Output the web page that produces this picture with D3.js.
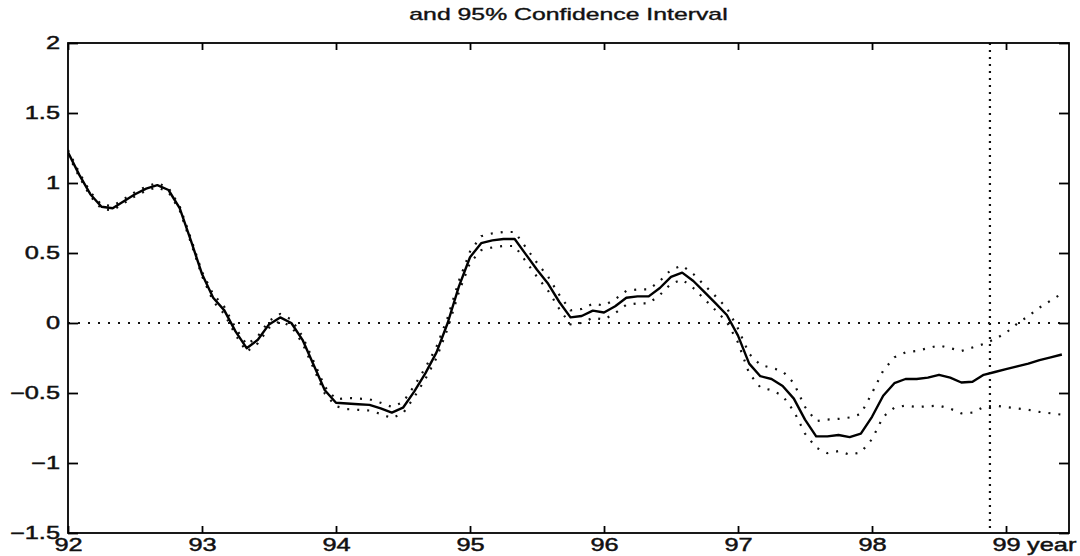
<!DOCTYPE html>
<html>
<head>
<meta charset="utf-8">
<script src="https://cdn.jsdelivr.net/npm/d3@7"></script>
<style>
  html, body { margin: 0; padding: 0; background: #fff; }
  svg { display: block; }
  text { font-family: "Liberation Sans", Arial, Helvetica, sans-serif; fill: #111; }
</style>
</head>
<body>
<svg id="chart" width="1080" height="556"></svg>
<script>
const title = "and 95% Confidence Interval";
const startYear = 92; // monthly samples, first one at Jan 92

// point estimate
const estimate = [
  1.22, 1.06, 0.92, 0.83, 0.82, 0.87, 0.92, 0.96, 0.985, 0.95, 0.82, 0.59,
  0.35, 0.18, 0.09, -0.06, -0.18, -0.12, -0.01, 0.04, 0.0, -0.12, -0.30, -0.48,
  -0.57, -0.575, -0.58, -0.585, -0.61, -0.64, -0.605, -0.49, -0.36, -0.21, 0.0, 0.26,
  0.47, 0.57, 0.59, 0.60, 0.60, 0.49, 0.38, 0.28, 0.15, 0.04, 0.05, 0.088,
  0.075, 0.12, 0.18, 0.19, 0.19, 0.25, 0.33, 0.36, 0.30, 0.22, 0.14, 0.057,
  -0.09, -0.29, -0.38, -0.40, -0.45, -0.54, -0.69, -0.81, -0.81, -0.80, -0.815, -0.79,
  -0.67, -0.52, -0.43, -0.40, -0.40, -0.39, -0.37, -0.39, -0.425, -0.42, -0.37, -0.35,
  -0.33, -0.31, -0.29, -0.265, -0.245, -0.225
];

// upper 95% bound
const upper = [
  1.235, 1.075, 0.935, 0.845, 0.835, 0.885, 0.935, 0.975, 1.0, 0.965, 0.835, 0.605,
  0.365, 0.205, 0.115, -0.035, -0.155, -0.095, 0.015, 0.065, 0.025, -0.095, -0.275, -0.455,
  -0.545, -0.535, -0.54, -0.545, -0.57, -0.60, -0.565, -0.45, -0.32, -0.17, 0.04, 0.30,
  0.51, 0.62, 0.64, 0.65, 0.65, 0.54, 0.43, 0.33, 0.20, 0.09, 0.10, 0.138,
  0.125, 0.17, 0.23, 0.24, 0.24, 0.30, 0.38, 0.41, 0.35, 0.27, 0.19, 0.107,
  -0.04, -0.22, -0.30, -0.32, -0.345, -0.43, -0.60, -0.70, -0.69, -0.685, -0.675, -0.65,
  -0.50, -0.34, -0.245, -0.21, -0.20, -0.18, -0.16, -0.18, -0.20, -0.175, -0.15, -0.115,
  -0.07, -0.005, 0.05, 0.11, 0.16, 0.21
];

// lower 95% bound
const lower = [
  1.205, 1.045, 0.905, 0.815, 0.805, 0.855, 0.905, 0.945, 0.97, 0.935, 0.805, 0.575,
  0.335, 0.155, 0.065, -0.085, -0.205, -0.145, -0.035, 0.015, -0.025, -0.145, -0.325, -0.505,
  -0.595, -0.615, -0.62, -0.625, -0.65, -0.68, -0.645, -0.53, -0.40, -0.25, -0.04, 0.22,
  0.43, 0.52, 0.54, 0.55, 0.55, 0.44, 0.33, 0.23, 0.10, -0.01, 0.0, 0.038,
  0.025, 0.07, 0.13, 0.14, 0.14, 0.20, 0.28, 0.31, 0.25, 0.17, 0.09, 0.007,
  -0.14, -0.36, -0.46, -0.48, -0.52, -0.63, -0.79, -0.89, -0.93, -0.915, -0.94, -0.925,
  -0.83, -0.67, -0.605, -0.59, -0.60, -0.595, -0.59, -0.612, -0.645, -0.64, -0.60, -0.59,
  -0.60, -0.61, -0.62, -0.635, -0.645, -0.655
];

const xTicks = [92, 93, 94, 95, 96, 97, 98, 99];
const yTicks = [-1.5, -1, -0.5, 0, 0.5, 1, 1.5, 2];
const forecastStart = 98.88;

// the original figure is stretched sideways, so text is too
const stretch = 1.45;

const margin = { top: 43, right: 11, bottom: 23, left: 68 };
const width = 1080, height = 556;
const innerW = width - margin.left - margin.right;
const innerH = height - margin.top - margin.bottom;

const svg = d3.select("#chart");
const g = svg.append("g").attr("transform", `translate(${margin.left},${margin.top})`);

const x = d3.scaleLinear().domain([92, 99.47]).range([0, innerW]);
const y = d3.scaleLinear().domain([-1.5, 2]).range([innerH, 0]);

const t = i => startYear + i / 12;

g.append("clipPath").attr("id", "clip")
  .append("rect").attr("width", innerW).attr("height", innerH);

const plot = g.append("g").attr("clip-path", "url(#clip)");

// zero line
plot.append("line")
  .attr("x1", x(92)).attr("x2", x(99.47))
  .attr("y1", y(0)).attr("y2", y(0))
  .attr("stroke", "#111").attr("stroke-width", 2.2)
  .attr("stroke-dasharray", "2 8");

// start of forecast
plot.append("line")
  .attr("x1", x(forecastStart)).attr("x2", x(forecastStart))
  .attr("y1", y(2)).attr("y2", y(-1.5))
  .attr("stroke", "#111").attr("stroke-width", 2.2)
  .attr("stroke-dasharray", "2 5");

const line = d3.line()
  .x((d, i) => x(t(i)))
  .y(d => y(d));

[upper, lower].forEach(band => {
  plot.append("path")
    .attr("d", line(band))
    .attr("fill", "none")
    .attr("stroke", "#111")
    .attr("stroke-width", 2.2)
    .attr("stroke-dasharray", "2 8");
});

plot.append("path")
  .attr("d", line(estimate))
  .attr("fill", "none")
  .attr("stroke", "#000")
  .attr("stroke-width", 2.4)
  .attr("stroke-linejoin", "round");

// axes: ticks point inward, like matlab
const fmt = d => (d < 0 ? "\u2212" : "") + Math.abs(d);

const yAxis = g.append("g")
  .call(d3.axisLeft(y).tickValues(yTicks).tickFormat(fmt)
    .tickSizeInner(-10).tickSizeOuter(0).tickPadding(8));

const xAxis = g.append("g").attr("transform", `translate(0,${innerH})`)
  .call(d3.axisBottom(x).tickValues(xTicks).tickFormat(d => d)
    .tickSizeInner(-7).tickSizeOuter(0).tickPadding(6));

g.append("g")
  .call(d3.axisTop(x).tickValues(xTicks).tickFormat("")
    .tickSizeInner(-7).tickSizeOuter(0));

g.append("g").attr("transform", `translate(${innerW},0)`)
  .call(d3.axisRight(y).tickValues(yTicks).tickFormat("")
    .tickSizeInner(-10).tickSizeOuter(0));

g.selectAll(".domain").remove();
g.selectAll(".tick line").attr("stroke", "#000").attr("stroke-width", 1.8);

// stretch the tick labels sideways, scan makes them look heavy
[yAxis, xAxis].forEach(ax => {
  ax.selectAll(".tick text").each(function() {
    const el = d3.select(this);
    const tx = +el.attr("x") || 0, ty = +el.attr("y") || 0;
    el.attr("x", 0).attr("y", 0)
      .attr("transform", `translate(${tx},${ty}) scale(${stretch},1)`)
      .attr("font-size", 17.5)
      .attr("font-family", "'Liberation Sans', Arial, sans-serif")
      .attr("fill", "#111")
      .attr("stroke", "#111").attr("stroke-width", 0.45);
  });
});

g.append("text")
  .attr("transform", `translate(${x(99) + 21},${innerH + 6}) scale(${stretch},1)`)
  .attr("dy", "0.71em")
  .attr("font-size", 17.5)
  .attr("stroke", "#111").attr("stroke-width", 0.45)
  .text("year");

// frame
g.append("rect")
  .attr("width", innerW).attr("height", innerH)
  .attr("fill", "none").attr("stroke", "#000").attr("stroke-width", 1.8);

svg.append("text")
  .attr("transform", `translate(${margin.left + innerW / 2},20) scale(1.55,1)`)
  .attr("text-anchor", "middle")
  .attr("font-size", 16)
  .attr("stroke", "#111").attr("stroke-width", 0.35)
  .text(title);
</script>
</body>
</html>
